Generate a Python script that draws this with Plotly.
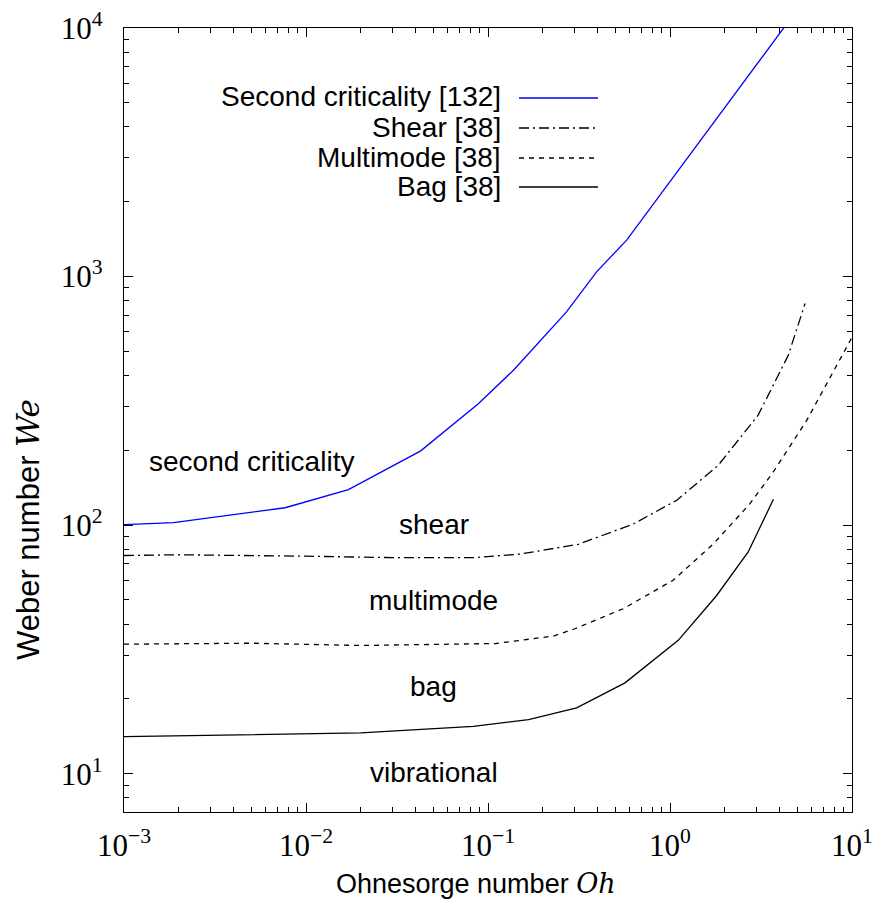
import plotly.graph_objects as go

# ---- data ----
oh_second = [0.001, 0.00187, 0.00768, 0.0171, 0.0427, 0.0885, 0.138, 0.270, 0.395, 0.578, 4.3]
we_second = [100.5, 102.3, 117.5, 139, 199, 308, 420, 721, 1045, 1402, 10200]

oh_shear = [0.001, 0.002, 0.01, 0.03, 0.083, 0.15, 0.313, 0.628, 1.09, 1.84, 3.05, 4.47, 5.52]
we_shear = [75.5, 76, 75, 74, 74, 76.5, 83.7, 101, 126, 174, 277, 483, 779]

oh_multi = [0.001, 0.005, 0.02, 0.11, 0.229, 0.3, 0.553, 1.04, 1.73, 2.75, 3.7, 5.64, 10]
we_multi = [33.2, 33.5, 32.8, 33.4, 35.8, 38.3, 46.1, 60, 84, 122, 164, 264, 570]

oh_bag = [0.001, 0.0075, 0.02, 0.083, 0.167, 0.307, 0.566, 1.11, 1.8, 2.69, 3.7]
we_bag = [14.1, 14.4, 14.6, 15.5, 16.5, 18.4, 23.2, 34.4, 52, 78, 127]

legend_names = ["Second criticality [132]", "Shear [38]", "Multimode [38]", "Bag [38]"]
region_labels = ["second criticality", "shear", "multimode", "bag", "vibrational"]

x_exps = [-3, -2, -1, 0, 1]
y_exps = [1, 2, 3, 4]

SANS = "Liberation Sans, Arial, sans-serif"
SERIF = "Liberation Serif, Times New Roman, serif"
FS = 28

series = [
    (oh_second, we_second, dict(color="#0000ff", width=1.3, dash="solid")),
    (oh_shear, we_shear, dict(color="black", width=1.3, dash="10px,4px,2px,4px")),
    (oh_multi, we_multi, dict(color="black", width=1.3, dash="5px,5px")),
    (oh_bag, we_bag, dict(color="black", width=1.3, dash="solid")),
]

fig = go.Figure()
for (xs, ys, ln), name in zip(series, legend_names):
    fig.add_trace(go.Scatter(x=xs, y=ys, mode="lines", line=ln, name=name, showlegend=False))

def sup(e):
    s = str(abs(e))
    return "10<sup>" + ("\u2212" if e < 0 else "") + s + "</sup>"

def minors(lo, hi):
    out = []
    for d in range(lo, hi):
        for m in range(2, 10):
            out.append(m * 10 ** d)
    return out

common = dict(
    type="log", showline=True, linecolor="black", linewidth=1.3, mirror="ticks",
    ticks="inside", ticklen=9, tickwidth=1, tickcolor="black",
    showgrid=False, zeroline=False, automargin=False,
    tickfont=dict(family=SERIF, size=31, color="black"),
)

fig.update_xaxes(
    range=[-3, 1], tickmode="array",
    tickvals=[10 ** e for e in x_exps], ticktext=[sup(e) for e in x_exps],
    minor=dict(ticks="inside", ticklen=5, tickcolor="black", tickvals=minors(-3, 1), showgrid=False),
    ticklabelstandoff=6,
    **common,
)
fig.update_yaxes(
    range=[0.846, 4], tickmode="array",
    tickvals=[10 ** e for e in y_exps], ticktext=[sup(e) for e in y_exps],
    minor=dict(ticks="inside", ticklen=5, tickcolor="black", tickvals=minors(0, 4), showgrid=False),
    ticklabelstandoff=14,
    **common,
)

L, R, T, B = 124, 24, 28, 88
W, H = 876, 900
PW, PH = W - L - R, H - T - B

def px(x):
    return (x - L) / PW

def py(y):
    return (H - B - y) / PH

# region labels (log10 coords)
label_pos = [(-2.297, 2.257), (-1.297, 2.003), (-1.297, 1.697), (-1.297, 1.351), (-1.297, 1.005)]
for txt, (lx, ly) in zip(region_labels, label_pos):
    fig.add_annotation(x=lx, y=ly, xref="x", yref="y", text=txt, showarrow=False,
                       font=dict(family=SANS, size=FS, color="black"),
                       xanchor="center", yanchor="middle")

# manual legend: text on the left, line sample on the right
leg_rows = [97, 127, 157, 186]
for (xs, ys, ln), name, ry in zip(series, legend_names, leg_rows):
    fig.add_annotation(x=px(503), y=py(ry), xref="paper", yref="paper", text=name,
                       showarrow=False, xanchor="right", yanchor="middle",
                       font=dict(family=SANS, size=FS, color="black"))
    fig.add_shape(type="line", xref="paper", yref="paper",
                  x0=px(519), x1=px(598), y0=py(ry + 1), y1=py(ry + 1),
                  line=dict(color=ln["color"], width=ln["width"], dash=ln["dash"]))

# axis titles
fig.add_annotation(x=px(476), y=py(883), xref="paper", yref="paper",
                   text="Ohnesorge number <span style='font-family:DejaVu Serif'><i>Oh</i></span>",
                   showarrow=False, xanchor="center", yanchor="middle",
                   font=dict(family=SANS, size=27, color="black"))
fig.add_annotation(x=px(28), y=py(530), xref="paper", yref="paper",
                   text="Weber number <span style='font-family:DejaVu Serif'><i>We</i></span>",
                   showarrow=False, xanchor="center", yanchor="middle", textangle=-90,
                   font=dict(family=SANS, size=31, color="black"))

fig.update_layout(
    width=W, height=H,
    margin=dict(l=L, r=R, t=T, b=B),
    paper_bgcolor="white", plot_bgcolor="white",
    showlegend=False,
)

fig.write_html("out.html")
